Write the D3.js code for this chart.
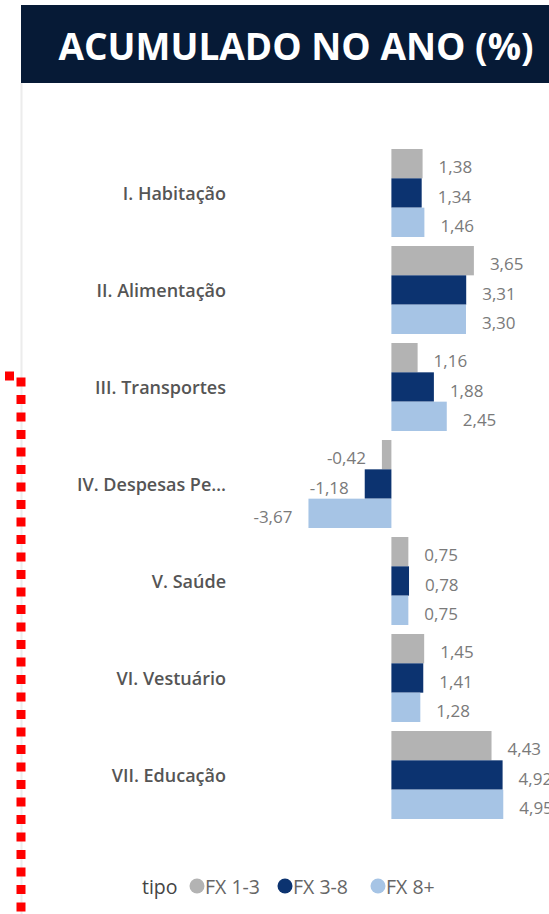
<!DOCTYPE html>
<html>
<head>
<meta charset="utf-8">
<script src="https://cdn.jsdelivr.net/npm/d3@7"></script>
<style>
  html, body { margin: 0; padding: 0; background: #fff; }
  svg { display: block; }
</style>
</head>
<body>
<div id="chart"></div>
<script>
// data
var categories = ["I. Habitação", "II. Alimentação", "III. Transportes", "IV. Despesas Pe…", "V. Saúde", "VI. Vestuário", "VII. Educação"];
var series = ["FX 1-3", "FX 3-8", "FX 8+"];
var fx13 = [1.38, 3.65, 1.16, -0.42, 0.75, 1.45, 4.43];
var fx38 = [1.34, 3.31, 1.88, -1.18, 0.78, 1.41, 4.92];
var fx8  = [1.46, 3.30, 2.45, -3.67, 0.75, 1.28, 4.95];
var colors = ["#b3b3b3", "#0c3370", "#a6c4e5"];

var width = 549,
    height = 914;

var svg = d3.select('#chart').append('svg')
    .attr('width', width)
    .attr('height', height);

// header
svg.append('rect')
    .attr('x', 21).attr('y', 5)
    .attr('width', width - 21).attr('height', 78)
    .attr('fill', '#061a36');

svg.append('text')
    .attr('x', 296).attr('y', 45)
    .attr('text-anchor', 'middle')
    .attr('dominant-baseline', 'central')
    .attr('fill', '#fff')
    .style('font-family', '"Open Sans", sans-serif')
    .style('font-weight', 700)
    .style('font-size', '37px')
    .text('ACUMULADO NO ANO (%)');

// panel left border
svg.append('line')
    .attr('x1', 21.5).attr('x2', 21.5)
    .attr('y1', 83).attr('y2', height)
    .attr('stroke', '#ececec')
    .attr('stroke-width', 2);

var rows = categories.map(function(c, i) {
    return {cat: c, values: [fx13[i], fx38[i], fx8[i]]};
});

var y0 = d3.scaleBand()
    .domain(categories)
    .range([144.5, 823.5])
    .paddingInner(9 / 97)
    .paddingOuter(4.5 / 97);

var y1 = d3.scaleBand()
    .domain(series)
    .range([0, y0.bandwidth()]);

var x = d3.scaleLinear()
    .domain([-4, 5])
    .range([301, 504.4]);

var groups = svg.selectAll('g.cat')
    .data(rows)
    .enter()
    .append('g')
    .attr('class', 'cat')
    .attr('transform', function(d) { return 'translate(0,' + y0(d.cat) + ')'; });

groups.append('text')
    .attr('x', 226)
    .attr('y', y0.bandwidth() / 2)
    .attr('text-anchor', 'end')
    .attr('dominant-baseline', 'central')
    .attr('fill', '#555')
    .style('font-family', '"Open Sans", sans-serif')
    .style('font-weight', 600)
    .style('font-size', '18px')
    .text(function(d) { return d.cat; });

var bars = groups.selectAll('g.bar')
    .data(function(d) {
        return d.values.map(function(v, i) { return {s: series[i], v: v, i: i}; });
    })
    .enter()
    .append('g')
    .attr('class', 'bar');

bars.append('rect')
    .attr('x', function(d) { return x(Math.min(0, d.v)); })
    .attr('y', function(d) { return y1(d.s); })
    .attr('width', function(d) { return Math.abs(x(d.v) - x(0)); })
    .attr('height', y1.bandwidth())
    .attr('fill', function(d) { return colors[d.i]; });

var fmt = function(v) { return d3.format('.2f')(v).replace('.', ',').replace('−', '-'); };

bars.append('text')
    .attr('x', function(d) { return d.v < 0 ? x(d.v) - 16 : x(d.v) + 16; })
    .attr('y', function(d) { return y1(d.s) + y1.bandwidth() / 2 + 3; })
    .attr('text-anchor', function(d) { return d.v < 0 ? 'end' : 'start'; })
    .attr('dominant-baseline', 'central')
    .attr('fill', '#7a7a7a')
    .style('font-family', '"Open Sans", sans-serif')
    .style('font-size', '17px')
    .text(function(d) { return fmt(d.v); });

// legend
var legend = svg.append('g')
    .attr('transform', 'translate(0,886)')
    .style('font-family', '"Open Sans", sans-serif')
    .style('font-size', '19.5px');

legend.append('text')
    .attr('x', 142)
    .attr('dominant-baseline', 'central')
    .attr('fill', '#444')
    .text('tipo');

var legendX = [197, 285, 378];
series.forEach(function(s, i) {
    legend.append('circle')
        .attr('cx', legendX[i])
        .attr('r', 7.5)
        .attr('fill', colors[i]);
    legend.append('text')
        .attr('x', legendX[i] + 8)
        .attr('dominant-baseline', 'central')
        .attr('fill', '#666')
        .text(s);
});

// red dashed marker
svg.append('path')
    .attr('d', 'M-30,376 L21,376 L21,' + (height + 10))
    .attr('fill', 'none')
    .attr('stroke', '#ff0000')
    .attr('stroke-width', 9)
    .attr('stroke-dasharray', '9,8.5');
</script>
</body>
</html>
